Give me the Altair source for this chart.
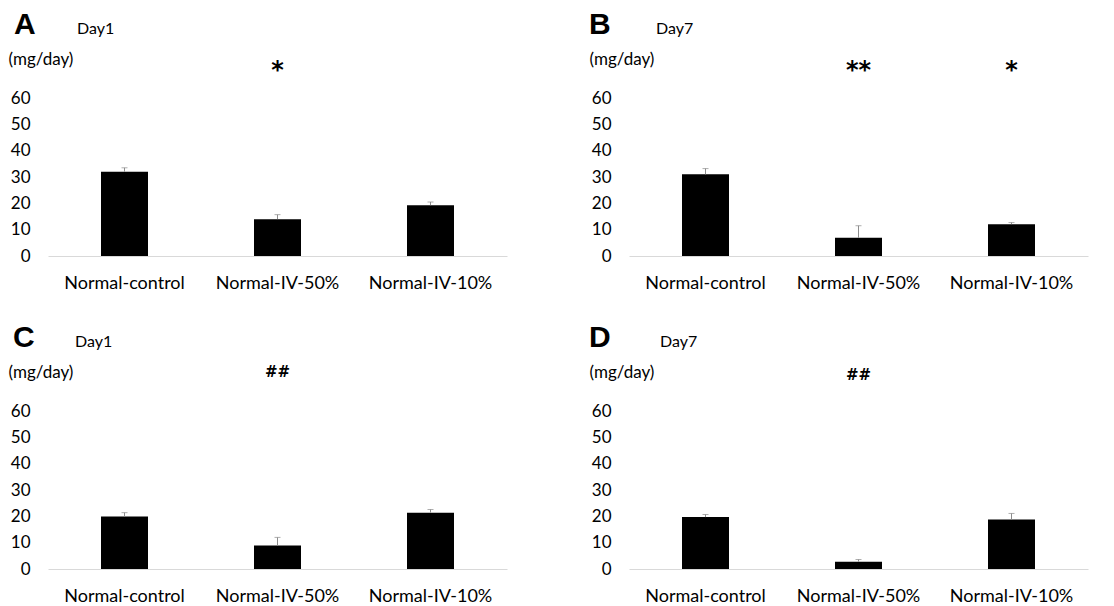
import altair as alt
import pandas as pd

categories = ["Normal-control", "Normal-IV-50%", "Normal-IV-10%"]
panel_letters = ["A", "B", "C", "D"]
panel_days = ["Day1", "Day7", "Day1", "Day7"]

means_A = [32.0, 14.0, 19.3]
errors_A = [1.5, 1.7, 1.2]
marks_A = ["", "*", ""]

means_B = [31.0, 6.9, 12.1]
errors_B = [2.2, 4.6, 0.6]
marks_B = ["", "**", "*"]

means_C = [19.9, 8.9, 21.4]
errors_C = [1.5, 3.1, 1.2]
marks_C = ["", "##", ""]

means_D = [19.7, 2.8, 18.8]
errors_D = [1.0, 0.8, 2.3]
marks_D = ["", "##", ""]

y_ticks = [0, 10, 20, 30, 40, 50, 60]
unit_label = "(mg/day)"

FONT = "Lato"
W, H = 459, 158


def panel(letter, day, means, errors, marks, letter_dx, day_dx, star_size, star_y):
    df = pd.DataFrame({
        "cat": categories,
        "mean": means,
        "top": [m + e for m, e in zip(means, errors)],
        "mark": marks,
    })
    x_axis = alt.Axis(title=None, labelAngle=0, domainColor="#d9d9d9", domainWidth=1,
                      ticks=False, labelFontSize=18, labelFont=FONT, labelColor="#000",
                      labelPadding=18)
    y_axis = alt.Axis(values=y_ticks, domain=False, ticks=False, grid=False,
                      labelFontSize=17, labelFont=FONT, labelColor="#000", labelPadding=18,
                      title=unit_label, titleAngle=0, titleAlign="left",
                      titleBaseline="alphabetic", titleX=-40, titleY=-34, titleFont=FONT,
                      titleFontSize=17, titleFontWeight="normal", titleColor="#000")
    xs = alt.Scale(paddingInner=0, paddingOuter=0)
    ys = alt.Scale(domain=[0, 60], nice=False)
    x = alt.X("cat:N", sort=categories, scale=xs, axis=x_axis)
    base = alt.Chart(df)
    bars = base.mark_bar(size=47, color="#000").encode(
        x=x, y=alt.Y("mean:Q", scale=ys, axis=y_axis))
    err = base.mark_rule(color="#8c8c8c", strokeWidth=1).encode(
        x=x, y=alt.Y("mean:Q", scale=ys, axis=y_axis), y2="top:Q")
    cap = base.mark_tick(color="#8c8c8c", size=6, thickness=1, orient="horizontal").encode(
        x=x, y=alt.Y("top:Q", scale=ys, axis=y_axis))
    stars = base.mark_text(font="DejaVu Sans", fontSize=star_size, fontWeight="bold",
                           baseline="alphabetic", color="#000").encode(
        x=x, y=alt.value(star_y), text="mark:N")
    lt = alt.Chart(pd.DataFrame({"t": [letter]})).mark_text(
        font="Liberation Sans", fontSize=30, fontWeight="bold", align="left",
        baseline="alphabetic", color="#000").encode(
        x=alt.value(letter_dx), y=alt.value(-64), text="t:N")
    dt = alt.Chart(pd.DataFrame({"t": [day]})).mark_text(
        font=FONT, fontSize=16, align="left", baseline="alphabetic", color="#000").encode(
        x=alt.value(day_dx), y=alt.value(-64), text="t:N")
    return alt.layer(bars, err, cap, stars, lt, dt).properties(width=W, height=H)


pA = panel(panel_letters[0], panel_days[0], means_A, errors_A, marks_A, -34, 29, 24, -20)
pB = panel(panel_letters[1], panel_days[1], means_B, errors_B, marks_B, -40, 27, 24, -20)
pC = panel(panel_letters[2], panel_days[2], means_C, errors_C, marks_C, -35, 27, 15, -34)
pD = panel(panel_letters[3], panel_days[3], means_D, errors_D, marks_D, -40, 31, 15, -31)

chart = alt.concat(pA, pB, pC, pD, columns=2, spacing={"row": 31, "column": 82}).properties(
    padding={"left": 8, "top": 10, "right": 5, "bottom": 0},
    background="white",
).configure_view(stroke=None)

chart.save("out.html", embed_options={"renderer": "svg", "actions": False})
